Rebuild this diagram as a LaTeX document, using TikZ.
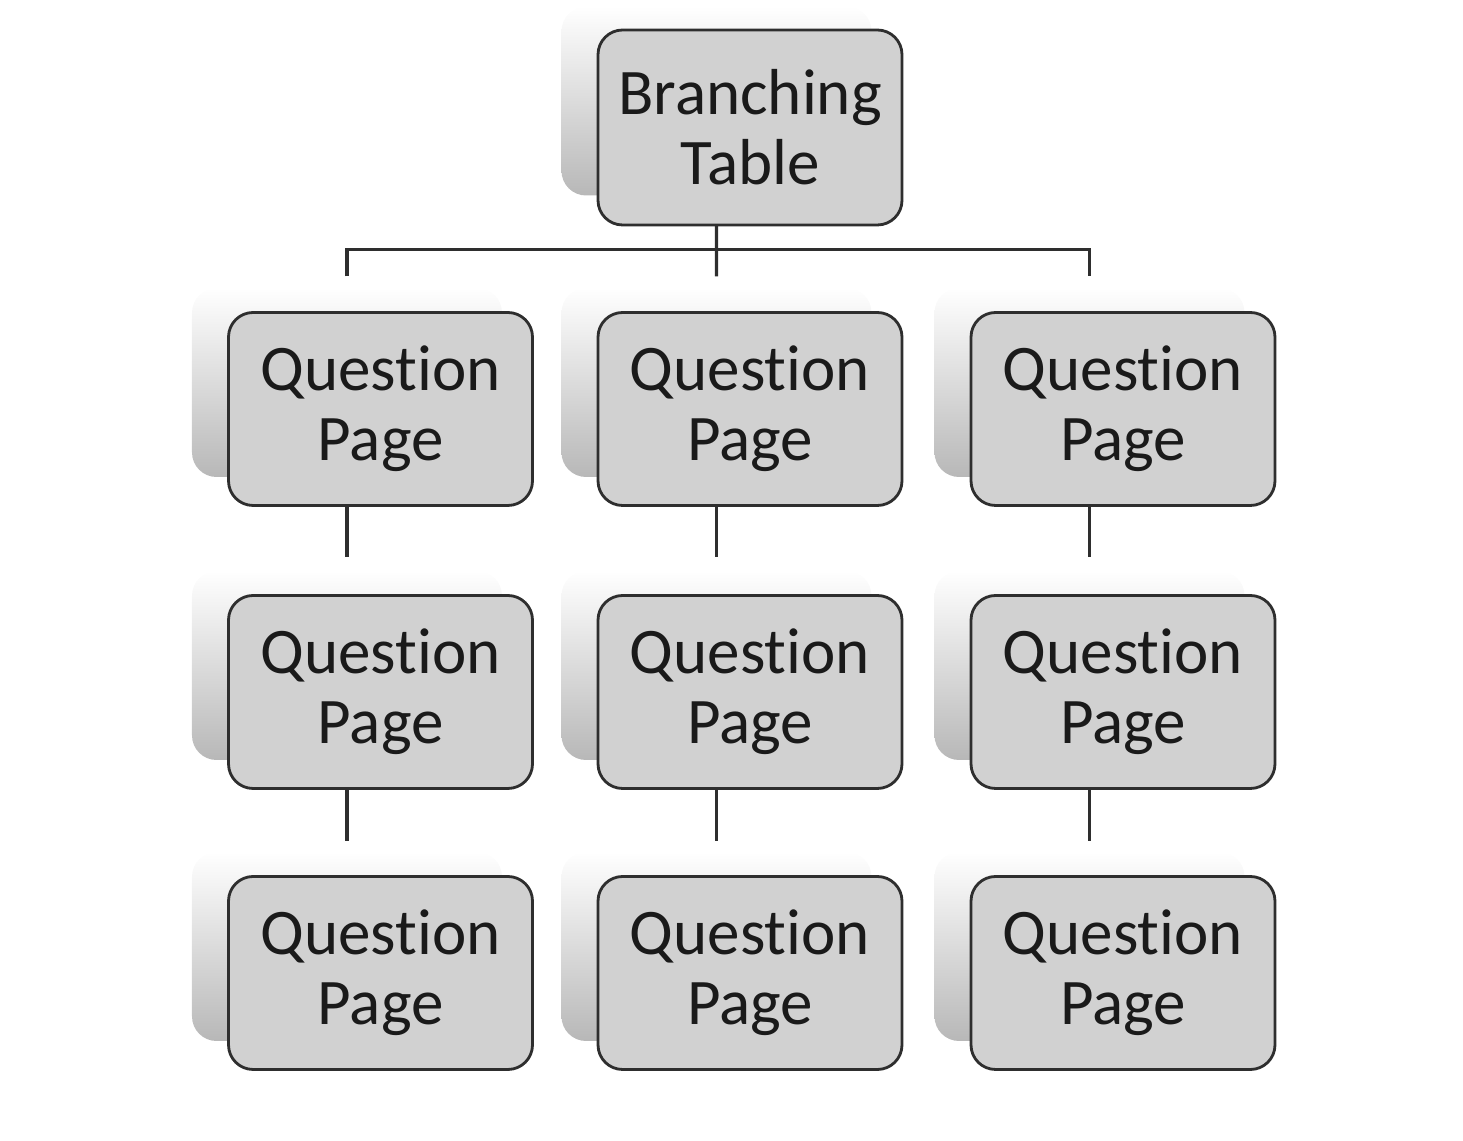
\documentclass[tikz,border=0pt]{standalone}
\usepackage{fontspec}
\setmainfont[RawFeature=-liga]{Carlito}
\definecolor{btText}{HTML}{1A1A1A}
\definecolor{btFill}{HTML}{D1D1D1}
\definecolor{btLine}{HTML}{2E2E2E}
\usetikzlibrary{calc,positioning}

\begin{document}
\begin{tikzpicture}[
  page/.style={rounded corners=7pt, draw=btLine, thick, fill=btFill, text=btText,
    minimum width=3.04cm, minimum height=1.93cm, align=center, inner sep=0pt,
    font=\fontsize{18.5}{20}\selectfont},
  ghost/.style={rounded corners=7pt, top color=white, bottom color=black!28,
    minimum width=3.1cm, minimum height=1.89cm, inner sep=0pt},
  link/.style={line width=0.9pt, color=btLine}
]
  \useasboundingbox (0,0) rectangle (14.63,-11.41);

  % faded backing cards
  \node[ghost] (gT) at (7.165,-1.01) {};
  \foreach \r/\y in {1/-4.09,2/-6.92,3/-9.73}
    \foreach \c/\x in {1/3.805,2/7.50,3/11.23}
      \node[ghost] (g\r\c) at ($(\x,\y)+(-0.335,0.265)$) {};

  % connectors
  \draw[link] (gT |- 0,-2.25) -- ([yshift=1.1mm]g12.north);
  \draw[link] ([yshift=1.1mm]g11.north) -- ++(0,0.27) -| ([yshift=1.1mm]g13.north);
  \foreach \c in {1,2,3} {
    \draw[link] (g1\c |- 0,-5.06) -- ([yshift=1.3mm]g2\c.north);
    \draw[link] (g2\c |- 0,-7.88) -- ([yshift=1.0mm]g3\c.north);
  }

  % cards
  \node[page, minimum height=1.95cm] (top) at (7.50,-1.275) {Branching\\Table};
  \foreach \r/\y in {1/-4.09,2/-6.92,3/-9.73}
    \foreach \c/\x in {1/3.805,2/7.50,3/11.23}
      \node[page] (q\r\c) at (\x,\y) {Question\\Page};
\end{tikzpicture}
\end{document}
